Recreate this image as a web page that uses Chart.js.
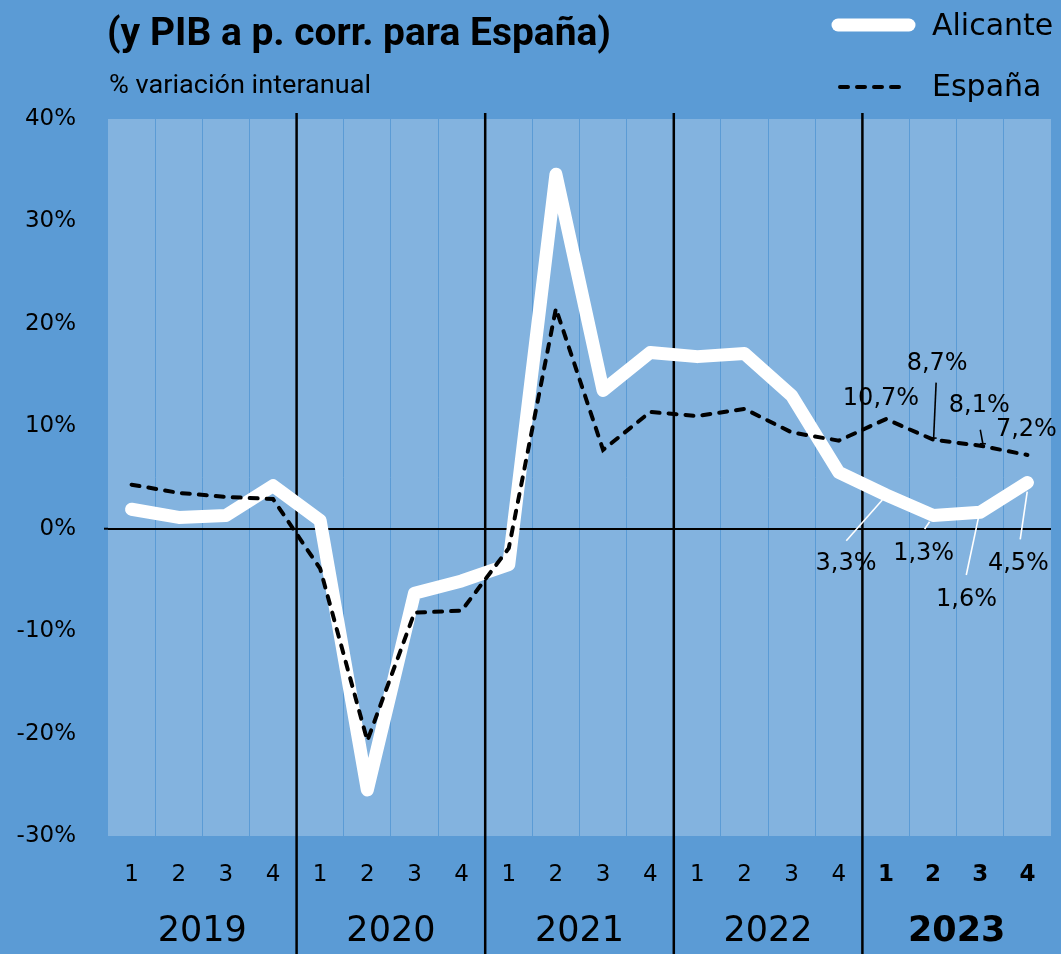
<!DOCTYPE html>
<html>
<head>
<meta charset="utf-8">
<script src="https://cdn.jsdelivr.net/npm/chart.js@4.4.1/dist/chart.umd.min.js"></script>
<style>
html,body{margin:0;padding:0;background:#5b9bd5;}
canvas{display:block;}
</style>
</head>
<body>
<canvas id="c" width="1061" height="954"></canvas>
<script>
// ---- data ----
const quarters = ['1','2','3','4','1','2','3','4','1','2','3','4','1','2','3','4','1','2','3','4'];
const years = ['2019','2020','2021','2022','2023'];
const alicante = [1.9,1.1,1.3,4.2, 0.8,-25.5,-6.3,-5.1, -3.5,34.6,13.5,17.2, 16.8,17.1,13.0,5.5, 3.3,1.3,1.6,4.5];
const espana   = [4.3,3.5,3.1,2.9, -3.9,-20.7,-8.2,-8.0, -1.9,21.5,7.7,11.4, 11.0,11.7,9.4,8.6, 10.7,8.7,8.1,7.2];
const yTicks = [-30,-20,-10,0,10,20,30,40];
const titleText = '(y PIB a p. corr. para España)';
const subtitleText = '% variación interanual';
const seriesNames = ['Alicante','España'];
// labelled points (last year), offsets are layout only
const labelIdx = [16,17,18,19];
const espLabelLayout = [
  {dx:-5, dy:-21, lead:null},
  {dx:4, dy:-77, lead:[3,-57,0.5,-1.5], bar:true},
  {dx:-1, dy:-41, lead:[0,-16,2.6,-2], bar:true},
  {dx:-1, dy:-26, lead:null}
];
const aliLabelLayout = [
  {dx:-40, dy:68, lead:[-39.7,45.8,-3.7,5.1]},
  {dx:-9.5, dy:37, lead:[-8.5,13.6,-3.5,6.3]},
  {dx:-13.7, dy:86, lead:[-14,62.7,-0.7,0]},
  {dx:-9, dy:80, lead:[-7.2,56.7,-0.2,9.1]}
];

const OUTER = '#5b9bd5';
const PLOT = '#83b3df';
const fmt = v => v.toFixed(1).replace('.', ',') + '%';

const custom = {
  id: 'custom',
  beforeDraw(chart) {
    const ctx = chart.ctx, a = chart.chartArea;
    ctx.save();
    ctx.fillStyle = OUTER;
    ctx.fillRect(0, 0, chart.width, chart.height);
    ctx.fillStyle = PLOT;
    ctx.fillRect(a.left, a.top, a.right - a.left, a.bottom - a.top);
    ctx.restore();
  },
  beforeDatasetsDraw(chart) {
    const ctx = chart.ctx, x = chart.scales.x, y = chart.scales.y, a = chart.chartArea;
    ctx.save();
    ctx.strokeStyle = '#000';
    ctx.lineWidth = 2.5;
    for (let i = 4; i < quarters.length; i += 4) {
      const px = (x.getPixelForValue(i - 1) + x.getPixelForValue(i)) / 2;
      ctx.beginPath();
      ctx.moveTo(px, a.top - 6);
      ctx.lineTo(px, chart.height);
      ctx.stroke();
    }
    // small tick of the zero line left of the plot
    const y0 = y.getPixelForValue(0);
    ctx.lineWidth = 2;
    ctx.beginPath(); ctx.moveTo(a.left - 4, y0); ctx.lineTo(a.left, y0); ctx.stroke();
    ctx.restore();
  },
  afterDraw(chart) {
    const ctx = chart.ctx, xs = chart.scales.x, ys = chart.scales.y;
    ctx.save();
    // title
    ctx.fillStyle = '#000';
    ctx.textBaseline = 'alphabetic';
    ctx.textAlign = 'left';
    ctx.font = 'bold 38px Roboto';
    let w = ctx.measureText(titleText).width;
    ctx.save();
    ctx.translate(107, 45);
    ctx.scale(504 / w, 1);
    ctx.fillText(titleText, 0, 0);
    ctx.restore();
    // subtitle
    ctx.font = '25px Roboto';
    w = ctx.measureText(subtitleText).width;
    ctx.save();
    ctx.translate(109, 93);
    ctx.scale(262 / w, 1);
    ctx.fillText(subtitleText, 0, 0);
    ctx.restore();
    // legend
    ctx.lineCap = 'round';
    ctx.strokeStyle = '#fff';
    ctx.lineWidth = 13;
    ctx.beginPath(); ctx.moveTo(838, 25); ctx.lineTo(909, 25); ctx.stroke();
    ctx.strokeStyle = '#000';
    ctx.lineWidth = 4;
    ctx.setLineDash([8, 9]);
    ctx.beginPath(); ctx.moveTo(840, 87); ctx.lineTo(907, 87); ctx.stroke();
    ctx.setLineDash([]);
    ctx.font = '30px "DejaVu Sans"';
    ctx.fillText(seriesNames[0], 932, 35);
    ctx.fillText(seriesNames[1], 932, 96);
    // data labels
    ctx.font = '24px "DejaVu Sans"';
    ctx.textAlign = 'center';
    ctx.textBaseline = 'middle';
    ctx.lineCap = 'butt';
    const drawLabels = (arr, layout, color) => {
      labelIdx.forEach((idx, k) => {
        const L = layout[k];
        const px = xs.getPixelForValue(idx), py = ys.getPixelForValue(arr[idx]);
        if (L.lead) {
          ctx.strokeStyle = color;
          ctx.lineWidth = 1.6;
          ctx.beginPath();
          ctx.moveTo(px + L.lead[0], py + L.lead[1]);
          ctx.lineTo(px + L.lead[2], py + L.lead[3]);
          ctx.stroke();
          if (L.bar) {
            ctx.beginPath();
            ctx.moveTo(px + L.lead[2] - 3, py + L.lead[3]);
            ctx.lineTo(px + L.lead[2] + 3, py + L.lead[3]);
            ctx.stroke();
          }
        }
        ctx.fillStyle = '#000';
        ctx.fillText(fmt(arr[idx]), px + L.dx, py + L.dy + 1);
      });
    };
    drawLabels(espana, espLabelLayout, '#000');
    drawLabels(alicante, aliLabelLayout, '#fff');
    ctx.restore();
  }
};

new Chart(document.getElementById('c'), {
  type: 'line',
  data: {
    labels: quarters,
    datasets: [
      {
        label: seriesNames[1], data: espana, order: 0,
        borderColor: '#000', borderWidth: 4, borderDash: [8, 9], borderCapStyle: 'round',
        pointRadius: 0, tension: 0, fill: false
      },
      {
        label: seriesNames[0], data: alicante, order: 1,
        borderColor: '#fff', borderWidth: 13, borderCapStyle: 'round', borderJoinStyle: 'round',
        pointRadius: 0, tension: 0, fill: false
      }
    ]
  },
  options: {
    responsive: false,
    devicePixelRatio: 1,
    animation: false,
    events: [],
    layout: { padding: { top: 119, left: 0, right: 10, bottom: 0 } },
    plugins: { legend: { display: false }, title: { display: false }, tooltip: { enabled: false } },
    scales: {
      x: {
        type: 'category',
        position: 'bottom',
        weight: 0,
        offset: true,
        border: { display: false },
        grid: { display: true, offset: true, color: '#5b9bd5', lineWidth: 1, drawTicks: false },
        ticks: {
          color: '#000',
          padding: 25,
          maxRotation: 0, autoSkip: false,
          font: ctx => ({ family: 'DejaVu Sans', size: 23, weight: ctx.index >= 16 ? 'bold' : 'normal' })
        },
        afterFit: s => { s.height = 60; }
      },
      x2: {
        type: 'category',
        labels: years,
        position: 'bottom',
        weight: 1,
        offset: true,
        border: { display: false },
        grid: { display: false, drawTicks: false },
        ticks: {
          color: '#000',
          padding: 15,
          maxRotation: 0, autoSkip: false,
          font: ctx => ({ family: 'DejaVu Sans', size: 35, weight: ctx.index === 4 ? 'bold' : 'normal' })
        },
        afterFit: s => { s.height = 58; }
      },
      y: {
        type: 'linear',
        min: yTicks[0], max: yTicks[yTicks.length - 1],
        border: { display: false },
        grid: {
          drawTicks: false,
          color: c => (c.tick && c.tick.value === 0 ? '#000' : 'rgba(0,0,0,0)'),
          lineWidth: 2
        },
        afterBuildTicks: s => { s.ticks = yTicks.map(v => ({ value: v })); },
        ticks: {
          color: '#000',
          padding: 32,
          font: { family: 'DejaVu Sans', size: 23 },
          callback: v => v + '%'
        },
        afterFit: s => { s.width = 108; }
      }
    }
  },
  plugins: [custom]
});
</script>
</body>
</html>
